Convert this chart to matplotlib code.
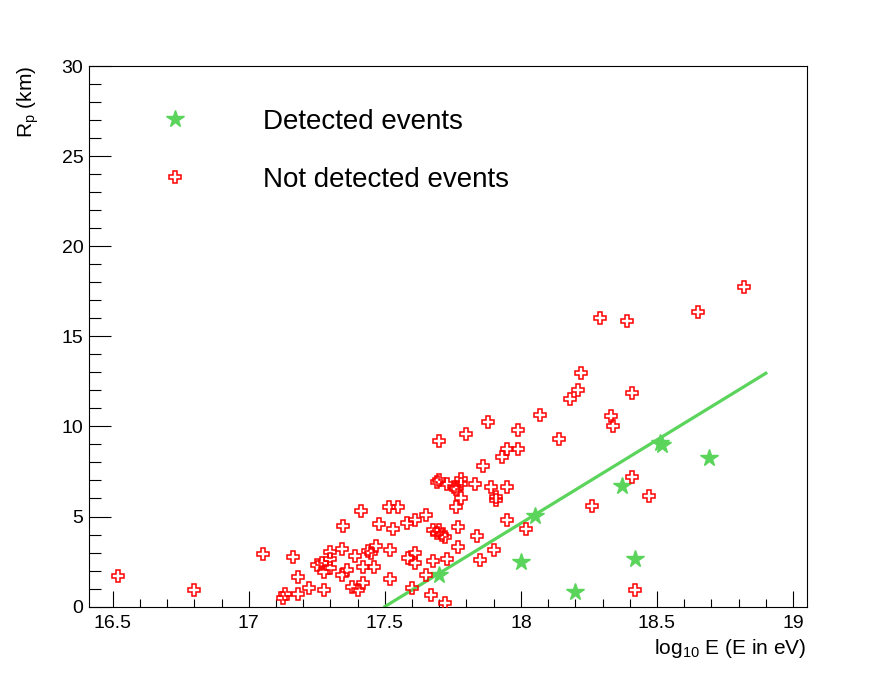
import matplotlib.pyplot as plt
from matplotlib.ticker import MultipleLocator
import numpy as np

plt.rcParams['font.family'] = ['Liberation Sans', 'DejaVu Sans']
plt.rcParams['mathtext.fontset'] = 'custom'
plt.rcParams['mathtext.rm'] = 'Liberation Sans'
plt.rcParams['mathtext.it'] = 'Liberation Sans'

# log10(E/eV) and Rp (km) of events
nd_log_e = [16.518, 16.80, 17.051, 17.161, 17.125, 17.135, 17.181, 17.181, 17.22, 17.278,
            17.25, 17.27, 17.278, 17.30, 17.30, 17.30, 17.342, 17.348, 17.342, 17.36,
            17.39, 17.411, 17.42, 17.44, 17.466, 17.45, 17.46, 17.48, 17.52, 17.53,
            17.517, 17.55, 17.52, 17.58, 17.61, 17.586, 17.61, 17.61, 17.38, 17.40,
            17.42, 17.60, 17.65, 17.88, 17.99, 17.80, 17.70, 17.95, 17.99, 17.93,
            17.86, 17.69, 17.70, 17.73, 17.756, 17.78, 17.78, 17.76, 17.83, 17.89,
            17.95, 17.91, 17.91, 17.78, 17.76, 17.95, 18.02, 17.77, 17.677, 17.70,
            17.69, 17.71, 17.72, 17.84, 17.77, 17.90, 17.85, 17.73, 17.677, 17.65,
            17.67, 17.72, 18.07, 18.18, 18.21, 18.22, 18.29, 18.14, 18.82, 18.65,
            18.39, 18.41, 18.33, 18.34, 18.41, 18.47, 18.26, 18.42]
nd_rp = [1.68, 0.92, 2.90, 2.78, 0.48, 0.68, 1.62, 0.70, 1.01, 0.92,
         2.29, 2.42, 1.93, 2.12, 3.04, 2.62, 3.19, 4.50, 1.78, 2.03,
         2.80, 5.29, 2.21, 3.06, 3.34, 2.95, 2.21, 4.61, 3.13, 4.30,
         5.50, 5.50, 1.51, 4.65, 4.79, 2.67, 2.40, 2.95, 1.10, 0.92,
         1.29, 1.01, 5.11, 10.26, 9.78, 9.56, 9.20, 8.76, 8.76, 8.30,
         7.78, 6.92, 7.05, 6.83, 6.64, 7.10, 6.83, 6.55, 6.79, 6.64,
         6.64, 6.09, 5.90, 6.00, 5.50, 4.79, 4.28, 4.39, 4.24, 4.24,
         4.06, 3.96, 3.87, 3.91, 3.32, 3.13, 2.58, 2.62, 2.52, 1.75,
         0.64, 0.22, 10.66, 11.50, 12.00, 12.98, 16.03, 9.30, 17.75, 16.37,
         15.87, 11.87, 10.57, 10.00, 7.19, 6.16, 5.61, 0.92]

det_log_e = [17.70, 18.00, 18.05, 18.20, 18.37, 18.42, 18.51, 18.52, 18.69]
det_rp = [1.75, 2.49, 5.02, 0.83, 6.68, 2.62, 9.10, 8.96, 8.27]

# linear fit Rp = p0 + p1 * log10(E), drawn over its fit range
fit_p0 = -161.875
fit_p1 = 9.25
fit_range = (17.5, 18.9)

green = '#5bd45b'
red = '#ff0000'

fig = plt.figure(figsize=(8.96, 6.74), dpi=100)
ax = fig.add_axes([0.0993, 0.1, 0.8010, 0.802])

fx = np.linspace(fit_range[0], fit_range[1], 50)
ax.plot(fx, fit_p0 + fit_p1 * fx, color=green, lw=2.3, zorder=2)

ax.plot(det_log_e, det_rp, ls='none', marker='*', ms=13, color=green,
        mec=green, label='Detected events', zorder=3)
ax.plot(nd_log_e, nd_rp, ls='none', marker='P', ms=8.8, mfc='none',
        mec=red, mew=1.1, label='Not detected events', zorder=4)

ax.set_xlim(16.413, 19.05)
ax.set_ylim(0, 30)
ax.xaxis.set_major_locator(MultipleLocator(0.5))
ax.xaxis.set_minor_locator(MultipleLocator(0.1))
ax.yaxis.set_major_locator(MultipleLocator(5))
ax.yaxis.set_minor_locator(MultipleLocator(1))
ax.xaxis.set_major_formatter(plt.FuncFormatter(lambda v, p: f'{v:g}'))
ax.tick_params(axis='x', which='major', direction='in', length=11.5, width=0.8,
               labelsize=14, pad=6, top=False)
ax.tick_params(axis='x', which='minor', direction='in', length=5.8, width=0.8, top=False)
ax.tick_params(axis='y', which='major', direction='in', length=15.8, width=0.8,
               labelsize=14, pad=4, right=False)
ax.tick_params(axis='y', which='minor', direction='in', length=8.6, width=0.8, right=False)
for s in ax.spines.values():
    s.set_linewidth(0.8)

ax.text(-0.085, 1.0, r'R$_\mathregular{p}$ (km)', transform=ax.transAxes,
        rotation=90, ha='center', va='top', fontsize=15)
ax.text(1.0, -0.077, r'log$_\mathregular{10}$ E (E in eV)', transform=ax.transAxes,
        ha='right', va='center', fontsize=15)

ax.legend(loc='upper left', bbox_to_anchor=(0.081, 0.921), frameon=False,
          fontsize=20, handlelength=2, handletextpad=2.17, borderpad=0,
          borderaxespad=0, labelspacing=1.15, numpoints=1)

fig.savefig('out.png', dpi=100)
